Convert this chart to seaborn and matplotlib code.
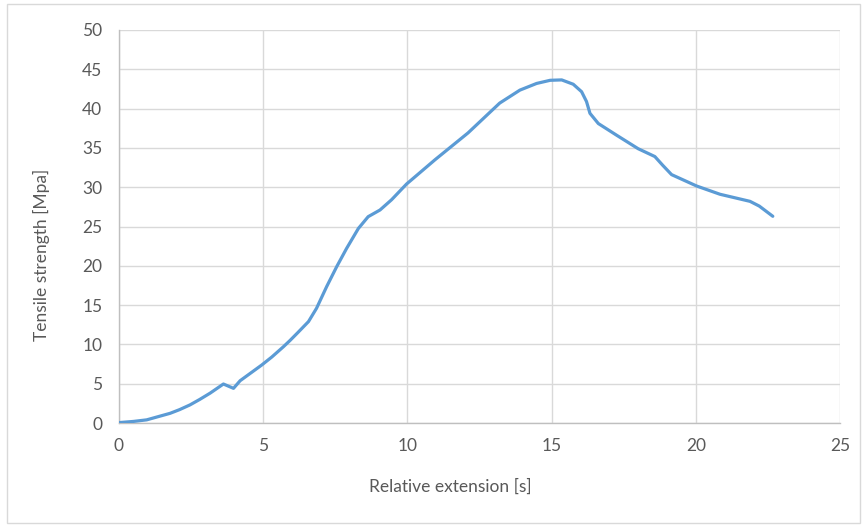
import matplotlib
matplotlib.use("Agg")
import matplotlib.pyplot as plt
import seaborn as sns
import pandas as pd

# values
extension = [0.0, 0.5, 0.96, 1.35, 1.77, 2.1, 2.46, 2.8, 3.16, 3.62, 3.97,
             4.2, 4.95, 5.3, 5.7, 5.93, 6.2, 6.57, 6.85, 7.2, 7.55, 7.89, 8.3,
             8.64, 9.05, 9.45, 9.97, 10.96, 12.1, 13.2, 13.9, 14.48, 14.95,
             15.35, 15.75, 16.04, 16.21, 16.33, 16.62, 17.26, 18.0, 18.58,
             18.85, 19.16, 20.03, 20.84, 21.88, 22.2, 22.67]
strength = [0.05, 0.2, 0.4, 0.8, 1.23, 1.7, 2.3, 3.0, 3.8, 4.96, 4.41,
            5.38, 7.38, 8.4, 9.7, 10.5, 11.5, 12.9, 14.6, 17.35, 19.9, 22.2,
            24.75, 26.25, 27.1, 28.4, 30.4, 33.5, 36.9, 40.7, 42.35, 43.2,
            43.6, 43.65, 43.1, 42.15, 40.9, 39.4, 38.1, 36.6, 34.9, 33.9,
            32.8, 31.6, 30.15, 29.1, 28.2, 27.6, 26.3]
x_ticks = [0, 5, 10, 15, 20, 25]
y_ticks = [0, 5, 10, 15, 20, 25, 30, 35, 40, 45, 50]

sns.set_style("white")
plt.rcParams['font.family'] = ['Lato', 'DejaVu Sans']

text_color = '#595959'
grid_color = '#d9d9d9'

df = pd.DataFrame({'ext': extension, 'ts': strength})

fig = plt.figure(figsize=(8.64, 5.27), dpi=100)
ax = fig.add_axes([119 / 864, 1 - 423 / 527, 721 / 864, 393 / 527])

sns.lineplot(data=df, x='ext', y='ts', sort=False, color='#5b9bd5',
             linewidth=2.3, ax=ax, zorder=3)
ax.lines[0].set_solid_joinstyle('round')
ax.lines[0].set_solid_capstyle('round')

ax.set_xlim(0, 25)
ax.set_ylim(0, 50)
ax.set_xticks(x_ticks)
ax.set_yticks(y_ticks)
ax.grid(True, color=grid_color, linewidth=1)
ax.set_axisbelow(True)

for side in ['top', 'right']:
    ax.spines[side].set_visible(False)
for side in ['left', 'bottom']:
    ax.spines[side].set_color('#bfbfbf')
    ax.spines[side].set_linewidth(1)

ax.tick_params(axis='both', colors='#bfbfbf', labelcolor=text_color,
               labelsize=12.5, length=5, width=1, direction='out')
ax.tick_params(axis='y', pad=7)
ax.tick_params(axis='x', pad=6)

ax.set_xlabel('Relative extension [s]', color=text_color, fontsize=12.5)
ax.set_ylabel('Tensile strength [Mpa]', color=text_color, fontsize=12.5)
ax.xaxis.label.set_va('center')
ax.yaxis.label.set_va('center')
ax.xaxis.set_label_coords(0.459, -0.163)
ax.yaxis.set_label_coords(-0.108, 0.427)

# chart area border like the spreadsheet export
fig.patches.append(plt.Rectangle((7 / 864, 4 / 527), 853 / 864, 519 / 527,
                                 transform=fig.transFigure, fill=False,
                                 edgecolor='#d9d9d9', linewidth=1))

fig.savefig('out.png', dpi=100)
